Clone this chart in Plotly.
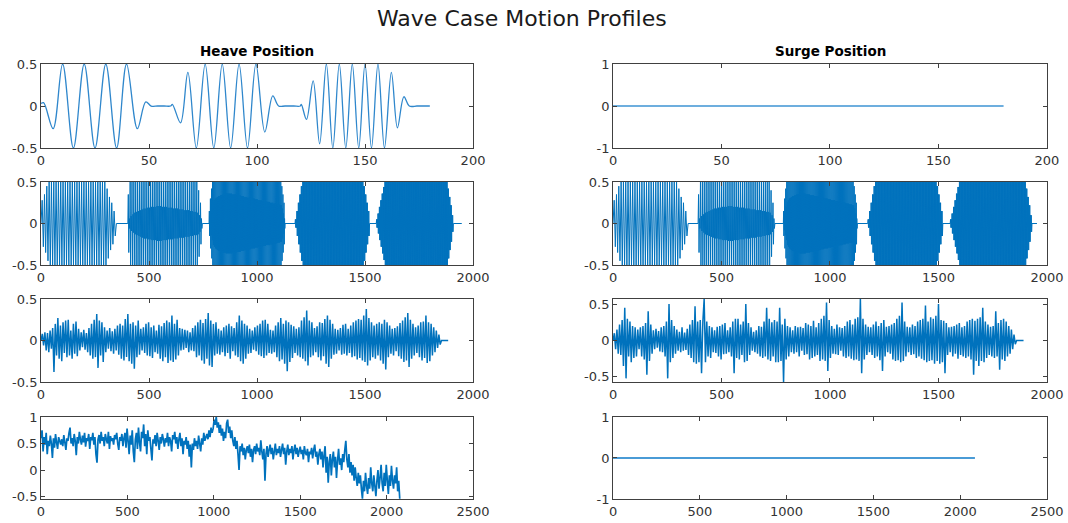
import numpy as np
import plotly.graph_objects as go

BLUE = "#0072BD"
FONT = "DejaVu Sans"

# ---------------- Row 1: regular wave bursts (extrema) ----------
heave1_t = [0, 1.2, 5.6, 10, 15, 20, 25, 30, 35, 39.6, 44.6, 48.5, 51, 54, 57, 60,
            60.8, 64.6, 68, 71.9, 76, 80, 83.9, 87.8, 91.7, 95.6, 99.5, 103.6, 107.3, 110, 113, 117, 120,
            120.5, 122.9, 126, 129, 132.1, 135.1, 138.1, 141.1, 144.1, 147.1, 150, 153, 156, 159,
            162.2, 165, 168, 170.5, 174, 177, 180]
heave1_y = [0.03, 0.04, -0.27, 0.5, -0.5, 0.5, -0.5, 0.5, -0.5, 0.5, -0.27, 0.05, 0, 0, 0, 0,
            0.02, -0.2, 0.4, -0.5, 0.5, -0.5, 0.5, -0.5, 0.5, -0.5, 0.5, -0.31, 0.12, 0, 0, 0, 0,
            0.02, -0.16, 0.3, -0.45, 0.5, -0.5, 0.5, -0.5, 0.5, -0.5, 0.5, -0.5, 0.5, -0.5,
            0.4, -0.26, 0.11, 0, 0, 0, 0]
surge1_t = [0, 180]
surge1_y = [0, 0]

# ---------------- Row 2: five swept bursts --------------------------------------
# per burst: time span, outer and inner peak amplitudes (hundredths), one pair per double cycle
sweep_span_heave = [[0, 349], [402, 747], [778, 1130], [1176, 1521], [1552, 1909]]
sweep_end_heave = 1948
sweep_span_surge = [[0, 346], [392, 746], [785, 1126], [1174, 1520], [1554, 1931]]
sweep_end_surge = 1954
sweep_outer = [
    [28, 45] + [50] * 12 + [42, 25],
    [35] + [50] * 37 + [40, 25],
    [15, 30, 42] + [50] * 64 + [45, 35, 25],
    [5, 15, 25, 35, 45] + [50] * 41 + [45, 35, 25, 15],
    [5, 12, 20, 28, 36, 44] + [50] * 45 + [42, 32, 22, 10],
]
sweep_inner = [
    [35, 50] + [50] * 12 + [32, 15],
    [6, 9, 11, 13, 14, 15, 16, 17, 18, 18, 19, 19, 20, 20, 20, 21, 21, 21, 20, 20,
     20, 19, 19, 19, 18, 18, 18, 17, 17, 17, 16, 16, 16, 15, 15, 14, 14, 13, 10, 6],
    [8, 14, 20,
     26, 28, 30, 31, 32, 33, 33, 34, 34, 35, 35, 35, 36, 36, 36, 36, 36, 36, 35, 35,
     35, 35, 34, 34, 34, 34, 33, 33, 33, 32, 32, 32, 31, 31, 31, 30, 30, 30, 30, 29,
     29, 29, 28, 28, 28, 28, 27, 27, 27, 26, 26, 26, 26, 25, 25, 25, 24, 24, 24, 23,
     23, 23, 22, 22,
     18, 12, 6],
    [5, 15, 25, 35, 45] + [50] * 41 + [45, 35, 25, 15],
    [5, 12, 20, 28, 36, 44] + [50] * 45 + [42, 32, 22, 10],
]

# ---------------- Row 3: irregular waves (hundredths, dt = 6) ----------------------
irr_dt = 6
heave3 = [
    0, 8, -6, 10, -12, 9, -14, 12, -10, 15,
    -38, 20, -18, 27, -22, 18, -25, 22, -15, 24,
    -20, 25, -18, 12, -22, 20, -16, 23, -19, 14,
    -12, 10, -8, 13, -11, 9, -14, 15, -18, 20,
    -22, 25, -20, 32, -33, 24, -18, 22, -26, 16,
    -14, 12, -10, 15, -13, 11, -16, 14, -12, 18,
    -17, 20, -22, 18, -24, 26, -20, 32, -25, 20,
    -28, 22, -34, 18, -20, 24, -17, 14, -12, 16,
    -15, 20, -18, 22, -19, 16, -21, 18, -14, 12,
    -16, 19, -22, 17, -25, 21, -20, 24, -27, 22,
    -24, 30, -26, 20, -23, 25, -18, 15, -12, 14,
    -11, 13, -9, 12, -14, 10, -12, 15, -13, 18,
    -20, 22, -18, 25, -24, 21, -28, 26, -22, 33,
    -30, 24, -32, 20, -18, 22, -16, 14, -17, 12,
    -14, 16, -19, 18, -15, 20, -22, 17, -13, 15,
    -18, 22, -20, 30, -25, 24, -28, 20, -22, 18,
    -16, 14, -15, 12, -11, 16, -13, 18, -17, 20,
    -19, 24, -21, 25, -18, 20, -15, 13, -16, 12,
    -14, 18, -20, 22, -25, 27, -23, 20, -28, 24,
    -37, 22, -26, 19, -21, 17, -15, 14, -18, 16,
    -20, 24, -22, 28, -25, 36, -30, 24, -20, 22,
    -18, 15, -14, 17, -20, 22, -24, 21, -19, 26,
    -28, 30, -32, 25, -22, 20, -17, 14, -16, 13,
    -12, 15, -17, 19, -16, 20, -18, 14, -15, 18,
    -20, 22, -19, 24, -23, 26, -21, 25, -24, 30,
    -26, 38, -30, 27, -24, 22, -20, 18, -22, 20,
    -18, 22, -24, 20, -28, 25, -35, 22, -20, 18,
    -16, 14, -18, 15, -13, 17, -19, 21, -22, 24,
    -26, 28, -24, 33, -32, 25, -22, 20, -18, 16,
    -15, 18, -20, 22, -24, 23, -21, 30, -27, 22,
    -25, 20, -18, 16, -14, 12, -9, 7, -5, 0,
]
heave3_end = 1885
surge3 = [
    0, 10, -12, 15, -18, 22, -20, 28, -35, 45,
    -52, 30, -22, 26, -30, 20, -24, 18, -22, 15,
    -12, 18, -22, 20, -26, 24, -47, 40, -28, 22,
    -18, 14, -12, 16, -10, 13, -15, 18, -16, 20,
    -22, 26, -52, 50, -30, 28, -24, 20, -18, 15,
    -14, 12, -16, 18, -14, 11, -13, 16, -20, 22,
    -24, 28, -30, 47, -32, 26, -30, 28, -45, 26,
    57, -30, 26, -22, 20, -24, 18, -16, 14, -17,
    19, -22, 20, -26, 22, -19, 24, -18, 14, -16,
    18, -22, 26, -45, 30, -24, 30, -26, 22, -20,
    26, -30, 50, -28, 24, -20, 18, -14, 12, -16,
    14, -18, 20, -22, 19, -24, 26, -22, 45, -26,
    30, -28, 25, -22, 28, -30, 26, -30, 45, -28,
    22, -57, 30, -26, 20, -22, 18, -16, 14, -18,
    20, -16, 18, -22, 19, -14, 17, -20, 24, -19,
    22, -26, 20, -24, 27, -22, 18, -20, 24, -28,
    30, -26, 34, -28, 52, -42, 28, -24, 20, -18,
    16, -19, 22, -20, 18, -14, 17, -22, 20, -24,
    26, -22, 28, -25, 22, -27, 30, -26, 32, -28,
    57, -45, 30, -26, 22, -20, 19, -16, 18, -20,
    22, -24, 26, -22, 20, -27, 24, -42, 28, -22,
    19, -16, 20, -18, 22, -26, 24, -28, 30, -27,
    34, -30, 52, -28, 26, -22, 19, -16, 18, -20,
    22, -19, 20, -24, 26, -22, 28, -25, 30, -27,
    48, -30, 26, -28, 32, -27, 30, -32, 34, -28,
    50, -32, 28, -30, 27, -45, 24, -20, 18, -16,
    19, -22, 20, -18, 22, -25, 24, -20, 18, -22,
    20, -24, 26, -22, 28, -26, 30, -47, 27, -28,
    30, -35, 32, -28, 45, -30, 26, -24, 22, -20,
    19, -22, 20, -24, 40, -22, 24, -40, 28, -26,
    30, -28, 26, -22, 20, -18, 15, -12, 8, -5,
    0,
]
surge3_end = 1892

# ---------------- Row 4: measured-like heave record (hundredths, dt = 6) ------------
heave4 = [
    60, 75, 35, 62, 48, 70, 30, 55, 45, 65,
    50, 23, 60, 42, 68, 52, 40, 62, 55, 48,
    58, 45, 66, 52, 38, 60, 55, 70, 80, 50,
    60, 45, 68, 55, 28, 62, 50, 72, 58, 48,
    65, 52, 70, 44, 60, 55, 68, 40, 62, 56,
    70, 48, 62, 30, 14, 58, 66, 50, 72, 55,
    62, 45, 68, 58, 50, 72, 40, 64, 55, 60,
    48, 66, 58, 70, 50, 38, 62, 55, 68, 45,
    60, 70, 42, 78, 55, 30, 65, 48, 75, 35,
    15, 58, 70, 40, 80, 52, 35, 72, 60, 86,
    45, 68, 30, 75, 55, 62, 40, 18, 58, 50,
    66, 45, 70, 55, 38, 62, 50, 68, 58, 44,
    60, 52, 70, 45, 62, 55, 35, 66, 58, 72,
    50, 62, 40, 58, 70, 45, 60, 30, 55, 48,
    62, 40, 55, 25, 48, 5, 50, 38, 60, 45,
    55, 40, 65, 50, 35, 60, 48, 70, 55, 62,
    68, 58, 75, 62, 80, 70, 78, 95, 85, 100,
    80, 90, 70, 85, 65, 78, 55, 72, 60, 88,
    95, 70, 82, 60, 75, 55, 45, 62, 40, 55,
    30, 0, 45, 35, 50, 28, 42, 20, 38, 45,
    32, 48, 25, 40, 15, 38, 45, 30, 50, 35,
    42, 28, 56, 35, 20, 40, -20, 30, 45, 25,
    38, 48, 30, 42, 20, 35, 50, 28, 40, 32,
    45, 25, 38, 50, 30, 42, 10, 35, 48, 28,
    40, 32, 45, 20, 38, 48, 30, 42, 25, 36,
    44, 30, 38, 20, 45, 32, 28, 40, 15, 35,
    30, 42, 22, 38, 48, 25, 35, 10, 30, 40,
    20, 35, 5, 28, 45, -5, 25, -24, 15, 30,
    -10, 20, 35, 5, 25, -15, 18, 40, 10, 22,
    0, 30, 15, 38, 55, 20, 5, 30, -5, 15,
    -10, 10, -20, 5, -15, -30, -5, -25, -10, -35,
    -54, -20, -40, -5, -30, -45, -15, -35, 5, -25,
    -40, -10, -30, -49, -20, 0, -35, -15, 10, -25,
    -40, -5, -30, 10, -20, -45, -10, -30, 8, -20,
    -35, -10, -25, 5, -40, -20, -54,
]
surge4_t = [0, 2085]
surge4_y = [0, 0]

# ---------------- axes definitions ---------------------------------------------------
x_dom = {1: [0.0384, 0.4429], 2: [0.5740, 0.9803]}
y_dom = {1: [0.7170, 0.8776], 2: [0.4933, 0.6520], 3: [0.2696, 0.4283], 4: [0.0459, 0.2027]}
x_ticks = {1: [0, 50, 100, 150, 200], 2: [0, 500, 1000, 1500, 2000],
           3: [0, 500, 1000, 1500, 2000], 4: [0, 500, 1000, 1500, 2000, 2500]}
x_rng = {1: [0, 200], 2: [0, 2000], 3: [0, 2000], 4: [0, 2500]}
y_rng = {1: [-0.5, 0.5], 2: [-1, 1], 3: [-0.5, 0.5], 4: [-0.5, 0.5],
         5: [-0.5, 0.5], 6: [-0.57, 0.57], 7: [-0.545, 1.0], 8: [-1, 1]}
y_ticks = {1: [-0.5, 0, 0.5], 2: [-1, 0, 1], 3: [-0.5, 0, 0.5], 4: [-0.5, 0, 0.5],
           5: [-0.5, 0, 0.5], 6: [-0.5, 0, 0.5], 7: [-0.5, 0, 0.5, 1], 8: [-1, 0, 1]}


def sweep(spans, end):
    xs, ys = [], []
    for (x0, x1), outer, inner in zip(spans, sweep_outer, sweep_inner):
        vals = []
        for a, s in zip(outer, inner):
            vals += [a, -a, s, -s]
        t = np.linspace(x0, x1, len(vals) + 2)
        xs += list(t)
        ys += [0] + [v / 100 for v in vals] + [0]
    xs.append(end)
    ys.append(0)
    return xs, ys


def record(vals, end=None):
    xs = list(np.arange(len(vals)) * irr_dt)
    ys = [v / 100 for v in vals]
    if end is not None:
        xs.append(end)
        ys.append(0)
    return xs, ys


fig = go.Figure()


def add(k, x, y, width=1.0, color=BLUE, shape="linear"):
    fig.add_trace(go.Scatter(
        x=x, y=y, mode="lines",
        line=dict(color=color, width=width, shape=shape, simplify=False),
        xaxis="x" if k == 1 else "x%d" % k, yaxis="y" if k == 1 else "y%d" % k,
        showlegend=False, hoverinfo="skip"))


add(1, heave1_t, heave1_y, width=1.3, color="#2f87cc", shape="spline")
add(2, surge1_t, surge1_y, width=1.6, color="#3d93d3")
hx, hy = sweep(sweep_span_heave, sweep_end_heave)
add(3, hx, hy)
sx, sy = sweep(sweep_span_surge, sweep_end_surge)
add(4, sx, sy)
x5, y5 = record(heave3, heave3_end)
add(5, x5, y5, width=1.5)
x6, y6 = record(surge3, surge3_end)
add(6, x6, y6, width=1.5)
x7, y7 = record(heave4)
add(7, x7, y7, width=1.7)
add(8, surge4_t, surge4_y, width=2.0, color="#4a9bd6")


def lab(v):
    return ("%g" % v)


layout = dict(
    width=1068, height=523, autosize=False,
    margin=dict(l=0, r=0, t=0, b=0),
    paper_bgcolor="white", plot_bgcolor="white",
    font=dict(family=FONT, size=13, color="#262626"),
)
for k in range(1, 9):
    r = (k - 1) // 2 + 1
    c = (k - 1) % 2 + 1
    common = dict(showline=True, mirror="ticks", ticks="inside", ticklen=4,
                  linecolor="#404040", tickcolor="#404040", linewidth=1, tickwidth=1,
                  showgrid=False, zeroline=False, fixedrange=True, automargin=False,
                  tickfont=dict(family=FONT, size=13, color="#333333"))
    xa = dict(common, domain=x_dom[c], range=x_rng[r], tickvals=x_ticks[r],
              ticktext=[lab(v) for v in x_ticks[r]],
              anchor="y" if k == 1 else "y%d" % k)
    ya = dict(common, domain=y_dom[r], range=y_rng[k], tickvals=y_ticks[k],
              ticktext=[lab(v) for v in y_ticks[k]],
              anchor="x" if k == 1 else "x%d" % k)
    layout["xaxis" if k == 1 else "xaxis%d" % k] = xa
    layout["yaxis" if k == 1 else "yaxis%d" % k] = ya

layout["annotations"] = [
    dict(text="Wave Case Motion Profiles", x=0.4888, y=0.9637, xref="paper", yref="paper",
         xanchor="center", yanchor="middle", showarrow=False,
         font=dict(family=FONT, size=22, color="#1a1a1a")),
    dict(text="<b>Heave Position</b>", x=0.2406, y=0.9016, xref="paper", yref="paper",
         xanchor="center", yanchor="middle", showarrow=False,
         font=dict(family=FONT, size=13.5, color="#000000")),
    dict(text="<b>Surge Position</b>", x=0.7772, y=0.9016, xref="paper", yref="paper",
         xanchor="center", yanchor="middle", showarrow=False,
         font=dict(family=FONT, size=13.5, color="#000000")),
]
fig.update_layout(**layout)
fig.write_html("out.html")
